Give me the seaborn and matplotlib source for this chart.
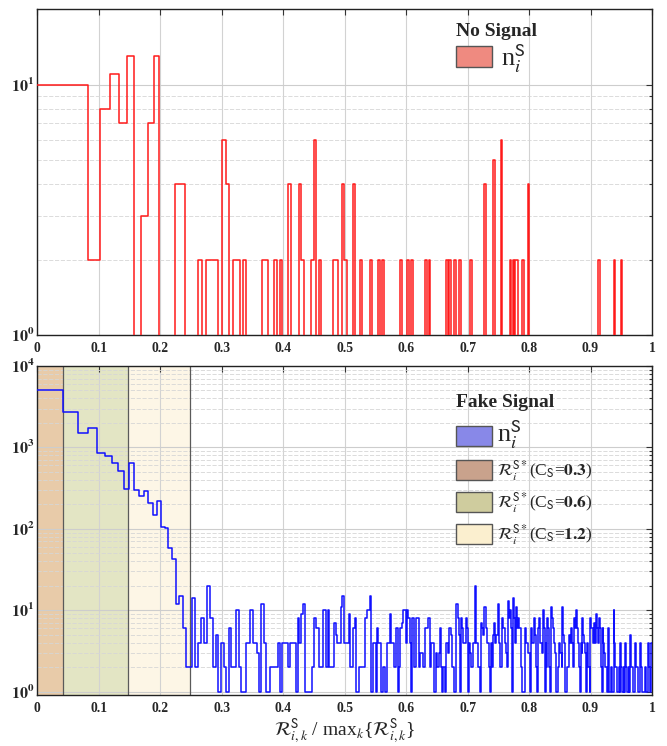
import numpy as np
import matplotlib
matplotlib.use("Agg")
import matplotlib.pyplot as plt
from matplotlib.patches import Patch
from matplotlib.ticker import LogLocator, FuncFormatter, NullFormatter
import seaborn as sns

# ---------------- data ----------------
# histogram bins are uniform in x^2 (start offset, stop, number of bins)
top_bin_sq_range = (-0.0004, 1.0)
top_nbins = 276
top_nonzero_bins = [0, 1, 2, 3, 4, 5, 6, 8, 9, 10, 14, 15, 19, 21, 22, 23, 25, 26,
                    28, 29, 31, 37, 38, 41, 43, 46, 50, 51, 55, 56, 58, 64, 65, 68,
                    69, 73, 76, 81, 85, 87, 96, 100, 102, 110, 112, 122, 124, 127,
                    130, 137, 146, 152, 157, 163, 165, 167, 168, 172, 176, 230, 243, 249]
top_nonzero_counts = [10, 10, 2, 8, 11, 7, 13, 3, 7, 13, 4, 4, 2, 2, 2, 2, 6, 4,
                      2, 2, 2, 2, 2, 2, 2, 4, 4, 2, 2, 6, 2, 2, 2, 4,
                      2, 4, 2, 2, 2, 2, 2, 2, 2, 2, 2, 2, 2, 2,
                      2, 2, 4, 5, 6, 2, 2, 2, 2, 2, 4, 2, 2, 2]

bottom_bin_sq_range = (-0.00078, 1.0)
bottom_counts_a = [5100, 2700, 1520, 1720, 863, 787, 650, 519, 312, 640, 300, 254, 295,
                   206, 148, 222, 106, 102, 58, 43, 12, 15, 6, 2, 2, 14, 2, 4]
bottom_counts_b = [8, 4, 20, 8, 2, 5, 1, 4, 2, 1, 6, 2, 2, 10, 2, 1, 1, 4, 4, 10, 4, 4,
                   3, 1, 12, 4, 1, 1, 2, 2, 2, 2, 4, 1, 4, 4, 4, 2, 4, 4, 4, 1, 8, 4,
                   9, 12, 1, 1, 1, 1, 2, 8, 6, 6, 2, 2, 10, 10, 2, 10, 2, 2, 2, 7, 5,
                   4, 4, 11, 15, 4, 4, 4, 9, 2, 2, 6, 8, 1, 1, 2, 2, 2, 2, 8, 10, 10,
                   15, 1, 4, 4, 1, 6, 4, 4, 1, 2, 2, 1, 4, 4, 9, 4, 4, 2, 2, 6, 1, 2,
                   6, 7, 10, 10, 4, 10, 8, 4, 1, 8, 2, 2, 8, 8, 2, 3, 3, 2, 2, 6, 6,
                   8, 8]
bottom_counts_c = [2, 4, 4, 1, 1, 3, 2, 3, 6, 2, 1, 2, 1, 4, 4, 3, 6, 5, 2, 2, 1, 1, 12,
                   8, 5, 1, 8, 6, 4, 4, 8, 6, 1, 4, 3, 2, 2, 4, 20, 4, 4, 2, 2, 1, 7,
                   6, 5, 11, 6, 4, 4, 2, 1,
                   4, 2, 5, 7, 4, 5, 5, 12, 4, 2, 8, 6, 6, 4, 3, 2, 13, 8, 10, 6, 1,
                   14, 8, 4, 11, 6, 8, 6, 6, 2, 1, 1, 1]
bottom_counts_d = [6, 4, 4, 3, 3, 1, 6, 4, 4, 8, 5, 2, 1, 6, 8, 4, 4, 3, 10, 6, 1, 4, 2,
                   8, 6, 2, 1, 11, 8, 6, 4, 3, 1, 1, 2,
                   4, 3, 3, 2, 11, 5, 4, 1, 1, 2, 2, 5, 4, 6, 4, 4, 2, 8, 6, 10, 6, 4,
                   2, 1, 4, 3, 8, 5, 4, 3, 1, 4, 2, 2, 1, 8, 6]
bottom_counts_e = [6, 4, 7, 4, 9, 6, 6, 4, 8, 6, 2, 1, 6, 4, 3, 2, 2, 1, 6, 4, 1, 1, 2,
                   1, 1, 10, 4, 2, 2, 1, 1, 2, 1, 4, 2, 1, 1, 2, 1,
                   4, 2, 1, 1, 2, 1, 5, 2, 2, 1, 1, 1, 4, 2, 2, 1, 1, 1, 4, 2, 2, 1,
                   1, 1, 2, 1, 1, 1, 4, 2, 2, 1, 4]
bottom_counts = (bottom_counts_a + bottom_counts_b + bottom_counts_c
                 + bottom_counts_d + bottom_counts_e)

region_bounds = [0.0, 0.0423, 0.148, 0.249]
region_cs = ["0.3", "0.6", "1.2"]
xtick_values = [0, 0.1, 0.2, 0.3, 0.4, 0.5, 0.6, 0.7, 0.8, 0.9, 1.0]
xtick_labels = ["0", "0.1", "0.2", "0.3", "0.4", "0.5", "0.6", "0.7", "0.8", "0.9", "1"]

# ---------------- styling ----------------
sns.set_style("white")
plt.rcParams["font.family"] = ["Liberation Serif", "DejaVu Serif"]
plt.rcParams["mathtext.fontset"] = "stix"

region_colors = ["#e8cba9", "#e3e5c4", "#fdf6e6"]
legend_region_colors = ["#c9a28c", "#cfcc9e", "#fbefcf"]
SERIF = "Liberation Serif"
SUP_S = r"\mathrm{\mathsf{S}}"   # upright sans-serif S


def sq_edges(rng, n):
    return np.sqrt(np.clip(np.linspace(rng[0], rng[1], n + 1), 0, None))


top_edges = sq_edges(top_bin_sq_range, top_nbins)
top_counts = np.zeros(top_nbins)
top_counts[top_nonzero_bins] = top_nonzero_counts
top_centers = 0.5 * (top_edges[:-1] + top_edges[1:])

bot_counts = np.asarray(bottom_counts, dtype=float)
bot_edges = sq_edges(bottom_bin_sq_range, len(bot_counts))
bot_centers = 0.5 * (bot_edges[:-1] + bot_edges[1:])

fig = plt.figure(figsize=(6.67, 7.46), dpi=100)
ax1 = fig.add_axes([0.0559, 0.5509, 0.9216, 0.4366])
ax2 = fig.add_axes([0.0559, 0.0684, 0.9216, 0.4410])


def style_axis(ax, ylim):
    ax.set_yscale("log")
    ax.set_xlim(0, 1)
    ax.set_ylim(*ylim)
    ax.set_axisbelow(True)
    ax.set_xticks(xtick_values)
    ax.set_xticklabels(xtick_labels, fontsize=9.8, fontweight="bold", family=SERIF)
    ax.yaxis.set_major_locator(LogLocator(base=10, numticks=12))
    ax.yaxis.set_minor_locator(LogLocator(base=10, subs=np.arange(2, 10), numticks=12))
    ax.yaxis.set_major_formatter(FuncFormatter(
        lambda v, p: r"$\mathbf{10^{%d}}$" % int(round(np.log10(v)))))
    ax.yaxis.set_minor_formatter(NullFormatter())
    ax.tick_params(axis="y", which="major", labelsize=11.5)
    ax.grid(True, which="major", axis="x", color="#d2d2d2", lw=0.8)
    ax.grid(True, which="major", axis="y", color="#cdcdcd", lw=0.8)
    ax.grid(True, which="minor", axis="y", color="#d6d6d6", lw=0.6, ls=(0, (5, 2)))
    ax.tick_params(which="both", direction="in", top=True, right=True,
                   color="#333333", width=0.8)
    ax.tick_params(which="major", length=4)
    ax.tick_params(which="minor", length=2.5)
    ax.tick_params(axis="x", pad=5)
    ax.tick_params(axis="y", pad=2)
    for s in ax.spines.values():
        s.set_color("#222222")
        s.set_linewidth(1.0)
    ax.set_xlabel("")
    ax.set_ylabel("")


n_label = r"n$_{i}^{%s}$" % SUP_S

# ---------------- top panel ----------------
sns.histplot(x=top_centers, weights=top_counts, bins=list(top_edges), element="step",
             fill=False, color="#ff1a1a", linewidth=1.1, ax=ax1, zorder=3)
style_axis(ax1, (1, 20))
leg1 = ax1.legend(handles=[Patch(facecolor="#ef8a80", edgecolor="#555555", lw=1.0)],
                  labels=[n_label], title="No Signal",
                  loc="upper left", bbox_to_anchor=(0.66, 1.0), frameon=False,
                  fontsize=19, handlelength=1.35, handleheight=0.85,
                  handletextpad=0.35, borderaxespad=0.1, labelspacing=0.08,
                  alignment="left",
                  title_fontproperties={"weight": "bold", "size": 14,
                                        "family": SERIF})

# ---------------- bottom panel ----------------
for i, col in enumerate(region_colors):
    ax2.axvspan(region_bounds[i], region_bounds[i + 1], color=col, lw=0, zorder=0.1)
for b in region_bounds[1:]:
    ax2.axvline(b, color="#5a5a5a", lw=0.9, zorder=0.6)
sns.histplot(x=bot_centers, weights=bot_counts, bins=list(bot_edges), element="step",
             fill=False, color="#1010ff", linewidth=1.1, ax=ax2, zorder=3)
style_axis(ax2, (0.91, 1e4))

handles = [Patch(facecolor="#8888e8", edgecolor="#555555", lw=1.0)]
labels = [n_label]
for c, cs in zip(legend_region_colors, region_cs):
    handles.append(Patch(facecolor=c, edgecolor="#555555", lw=1.0))
    labels.append(r"$\mathcal{R}_{i}^{%s*}$(C$_{%s}$=$\mathbf{%s}$)" % (SUP_S, SUP_S, cs))
leg2 = ax2.legend(handles=handles, labels=labels, title="Fake Signal",
                  loc="upper left", bbox_to_anchor=(0.665, 0.947), frameon=False,
                  fontsize=12.5, handlelength=2.05, handleheight=1.45,
                  handletextpad=0.3, labelspacing=0.42, borderaxespad=0.2,
                  alignment="left",
                  title_fontproperties={"weight": "bold", "size": 14,
                                        "family": SERIF})
leg2.get_texts()[0].set_fontsize(19)

ax2.set_xlabel(r"$\mathcal{R}^{%s}_{i,k}$ / max$_{k}${$\mathcal{R}^{%s}_{i,k}$}"
               % (SUP_S, SUP_S), fontsize=14, labelpad=1)

fig.savefig("out.png", dpi=100)
